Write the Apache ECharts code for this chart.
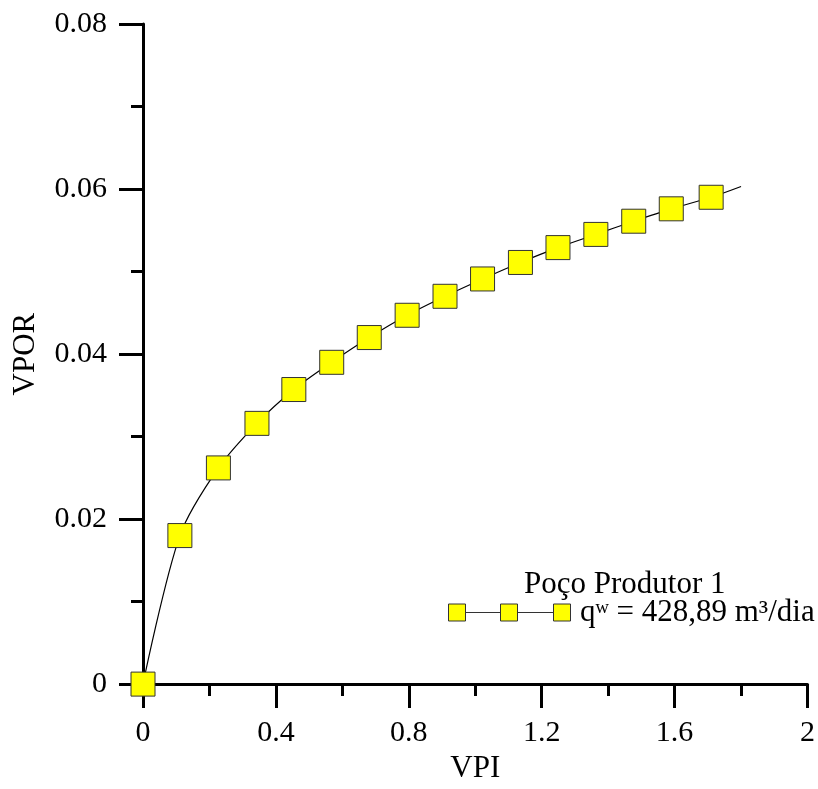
<!DOCTYPE html>
<html>
<head>
<meta charset="utf-8">
<script src="https://cdn.jsdelivr.net/npm/echarts@6/dist/echarts.min.js"></script>
<style>
html,body{margin:0;padding:0;background:#fff;}
#chart{width:818px;height:789px;}
</style>
</head>
<body>
<div id="chart"></div>
<script>
// Marker points (VPI, VPOR)
const vpi  = [0, 0.111, 0.227, 0.343, 0.454, 0.568, 0.681, 0.795, 0.909, 1.022, 1.136, 1.249, 1.363, 1.477, 1.590, 1.710];
const vpor = [0, 0.0180, 0.0262, 0.0316, 0.0357, 0.0390, 0.0420, 0.0447, 0.0470, 0.0491, 0.0511, 0.0529, 0.0545, 0.0561, 0.0576, 0.0590];
// Curve continues past the last marker (no symbol)
const tailVpi  = [1.80];
const tailVpor = [0.0603];
const xTicks = [0, 0.4, 0.8, 1.2, 1.6, 2];
const yTicks = [0, 0.02, 0.04, 0.06, 0.08];
const seriesName = 'qʷ = 428,89 m³/dia';
const legendTitle = 'Poço Produtor 1';

const FONT = '"Liberation Serif", "Times New Roman", serif';

const data = vpi.map((x, i) => [x, vpor[i]]);
tailVpi.forEach((x, i) => data.push({ value: [x, tailVpor[i]], symbol: 'none' }));

const axisCommon = {
  type: 'value',
  axisLine: { show: true, lineStyle: { color: '#000', width: 3 } },
  axisTick: { show: true, inside: false, length: 24, lineStyle: { color: '#000', width: 3 } },
  minorTick: { show: true, splitNumber: 2, length: 12, lineStyle: { color: '#000', width: 3 } },
  splitLine: { show: false },
  minorSplitLine: { show: false },
  axisLabel: { color: '#000', fontSize: 30, fontFamily: FONT },
  nameTextStyle: { color: '#000', fontSize: 31, fontFamily: FONT }
};

const iconPath = 'path://M0 0H17V17H0Z M17 8.5H52 M52 0H69V17H52Z M69 8.5H105 M105 0H122V17H105Z';

const chart = echarts.init(document.getElementById('chart'), null, { renderer: 'canvas' });
chart.setOption({
  backgroundColor: '#fff',
  animation: false,
  title: {
    text: legendTitle,
    left: 524, top: 569, padding: 0,
    textStyle: { color: '#000', fontSize: 31, fontWeight: 'normal', fontFamily: FONT }
  },
  legend: {
    left: 448, top: 597, padding: 0,
    data: [{ name: seriesName, icon: iconPath }],
    itemWidth: 123, itemHeight: 17,
    itemStyle: { color: '#ffff00', borderColor: '#333', borderWidth: 1 },
    textStyle: { color: '#000', fontSize: 31, fontFamily: FONT, padding: [0, 0, 0, 4] }
  },
  grid: { left: 143, right: 6, top: 24, bottom: 98, containLabel: false },
  xAxis: Object.assign({}, axisCommon, {
    min: xTicks[0], max: xTicks[xTicks.length - 1], interval: xTicks[1] - xTicks[0],
    name: 'VPI', nameLocation: 'middle', nameGap: 64,
    axisLabel: Object.assign({}, axisCommon.axisLabel, { margin: 34 })
  }),
  yAxis: Object.assign({}, axisCommon, {
    min: yTicks[0], max: yTicks[yTicks.length - 1], interval: yTicks[1] - yTicks[0],
    name: 'VPOR', nameLocation: 'middle', nameGap: 102,
    axisLabel: Object.assign({}, axisCommon.axisLabel, { margin: 36 })
  }),
  series: [{
    name: seriesName,
    type: 'line',
    data: data,
    smooth: 0.3,
    symbol: 'rect',
    symbolSize: 24,
    showAllSymbol: true,
    clip: false,
    itemStyle: { color: '#ffff00', borderColor: '#333', borderWidth: 1 },
    lineStyle: { color: '#000', width: 1.2 },
    z: 3
  }]
});
</script>
</body>
</html>
